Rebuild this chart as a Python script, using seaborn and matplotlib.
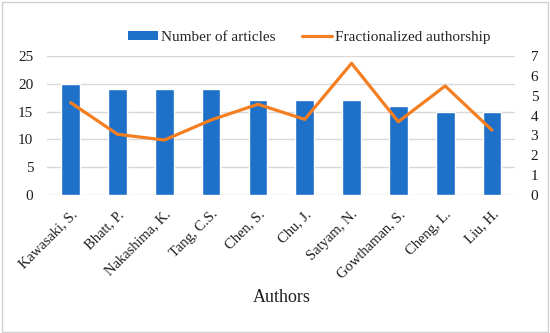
import matplotlib
matplotlib.use("Agg")
import matplotlib.pyplot as plt
import seaborn as sns
import pandas as pd
from matplotlib.patches import Patch, Rectangle
from matplotlib.lines import Line2D

authors = ["Kawasaki, S.", "Bhatt, P.", "Nakashima, K.", "Tang, C.S.", "Chen, S.",
           "Chu, J.", "Satyam, N.", "Gowthaman, S.", "Cheng, L.", "Liu, H."]
articles = [20, 19, 19, 19, 17, 17, 17, 16, 15, 15]
frac_auth = [4.65, 3.06, 2.77, 3.78, 4.57, 3.81, 6.63, 3.69, 5.49, 3.27]
left_ticks = [0, 5, 10, 15, 20, 25]
right_ticks = [0, 1, 2, 3, 4, 5, 6, 7]

sns.set_theme(style="white")
plt.rcParams["font.family"] = ["Liberation Serif", "DejaVu Serif"]

BLUE = "#1F70C8"
ORANGE = "#F57F20"
GRID = "#D9D9D9"
TXT = "#1E1E1E"

df = pd.DataFrame({"author": authors, "articles": articles, "frac": frac_auth})

fig = plt.figure(figsize=(5.5, 3.33), dpi=100)
fig.patches.append(Rectangle((0.003, 0.004), 0.994, 0.99, transform=fig.transFigure,
                             fill=False, edgecolor="#D0D0D0", linewidth=1))
ax = fig.add_axes([0.086, 0.414, 0.851, 0.418])
sns.barplot(data=df, x="author", y="articles", color=BLUE, width=0.4,
            saturation=1, ax=ax, zorder=3)
ax.set_ylim(0, 25)
ax.set_yticks(left_ticks)
ax.set_xlim(-0.5, len(authors) - 0.5)
ax.grid(axis="y", color=GRID, linewidth=1, zorder=0)
ax.set_axisbelow(True)
for s in ax.spines.values():
    s.set_visible(False)
ax.tick_params(axis="y", length=0, labelsize=11, colors=TXT, pad=10)
ax.tick_params(axis="x", length=0, labelsize=10.5, colors=TXT, pad=9)
ax.set_xticks(range(len(authors)))
ax.set_xticklabels(authors, rotation=45, ha="right", rotation_mode="anchor")
ax.set_ylabel("")
ax.set_xlabel("Authors", fontsize=13, color=TXT, labelpad=6)

ax2 = ax.twinx()
sns.lineplot(data=df, x="author", y="frac", color=ORANGE, linewidth=2.3, sort=False,
             ax=ax2, zorder=4)
ax2.set_ylim(0, 7)
ax2.set_yticks(right_ticks)
ax2.set_ylabel("")
for s in ax2.spines.values():
    s.set_visible(False)
ax2.tick_params(axis="y", length=0, labelsize=11, colors=TXT, pad=11)

handles = [Patch(facecolor=BLUE, edgecolor="none"),
           Line2D([0], [0], color=ORANGE, linewidth=2.3)]
fig.legend(handles, ["Number of articles", "Fractionalized authorship"],
           loc="center", bbox_to_anchor=(0.562, 0.888), ncol=2, frameon=False,
           fontsize=11, handlelength=2.0, handleheight=0.6, columnspacing=1.7,
           handletextpad=0.2)

fig.savefig("out.png", dpi=100)
